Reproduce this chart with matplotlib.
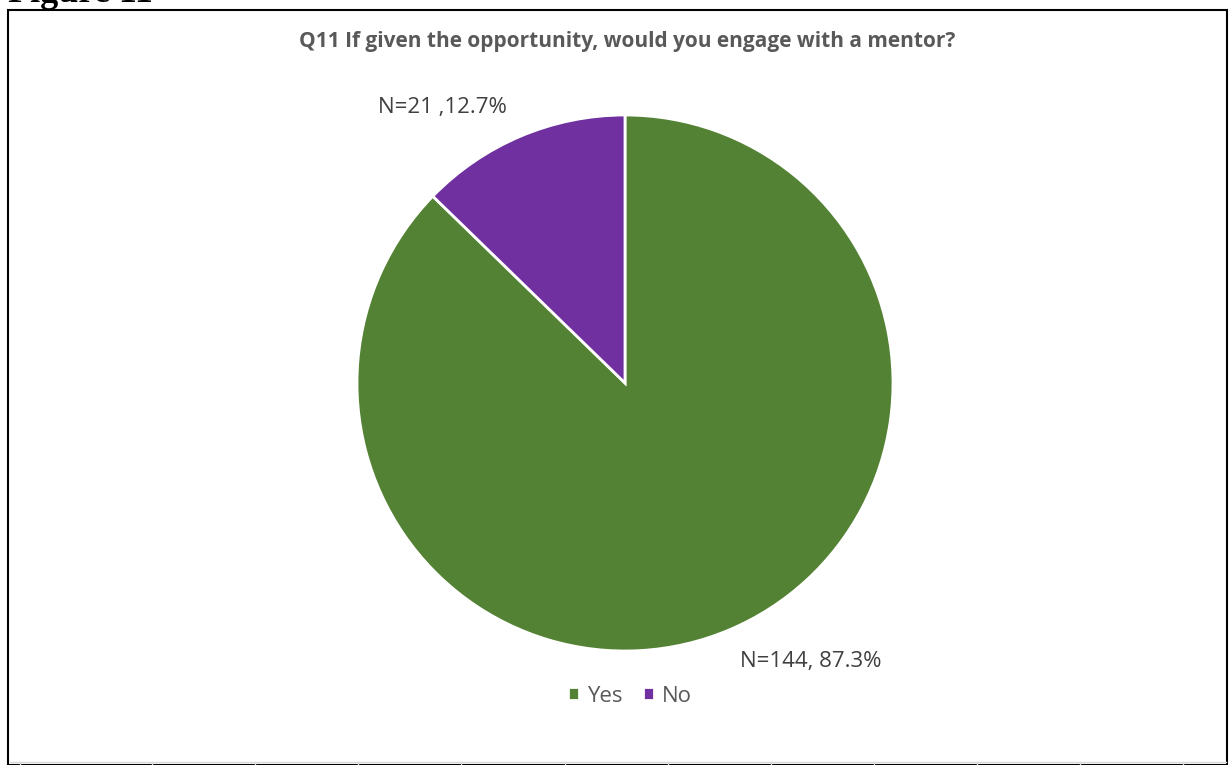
import matplotlib
matplotlib.use("Agg")
import matplotlib.pyplot as plt
from matplotlib.patches import Rectangle

labels = ["Yes", "No"]
counts = [144, 21]
percents = [87.3, 12.7]
colors = ["#548235", "#7030A0"]
title = "Q11 If given the opportunity, would you engage with a mentor?"

W, H = 1230, 765
fig = plt.figure(figsize=(W / 100, H / 100), dpi=100)
plt.rcParams['font.family'] = ['Open Sans', 'DejaVu Sans']

# outer frame of the chart (figure page)
fig.patches.append(Rectangle((8 / W, 0), 1219 / W, (H - 10) / H, transform=fig.transFigure,
                             fill=False, edgecolor="black", linewidth=1.5))
# cut-off caption at the top of the page
fig.text(8 / W, 1 + 6 / H, "Figure 11", family="Liberation Serif", fontweight="bold",
         fontsize=26, va="center", ha="left")
# faint table cell lines at the bottom
fig.add_artist(plt.Line2D([10 / W, 1226 / W], [3 / H, 3 / H], color="#d9d9d9", lw=1))
for xv in [20, 152, 255, 358, 461, 565, 668, 771, 874, 977, 1080, 1183]:
    fig.add_artist(plt.Line2D([xv / W, xv / W], [0, 3 / H], color="#d9d9d9", lw=1))

cx, cy, r = 625, 383, 268
ax = fig.add_axes([(cx - r) / W, (H - cy - r) / H, 2 * r / W, 2 * r / H])
wedges, _ = ax.pie(counts, colors=colors, startangle=90, counterclock=False,
                   wedgeprops=dict(edgecolor="white", linewidth=2))
ax.set_xlim(-1, 1)
ax.set_ylim(-1, 1)
ax.set_aspect("equal")

fig.text(627 / W, 1 - 42 / H, title, ha="center", va="center", fontsize=15,
         fontweight="bold", color="#595959")

fig.text(442 / W, 1 - 107 / H, f"N={counts[1]} ,{percents[1]}%", ha="center",
         va="center", fontsize=16, color="#404040")
fig.text(811 / W, 1 - 661 / H, f"N={counts[0]}, {percents[0]}%", ha="center",
         va="center", fontsize=16, color="#404040")

fig.legend(wedges, labels, loc="center", bbox_to_anchor=(630 / W, 1 - 696 / H),
           ncol=2, frameon=False, fontsize=16, handlelength=0.5, handleheight=0.5,
           handletextpad=0.35, columnspacing=0.9, labelcolor="#595959")

fig.savefig("out.png", dpi=100)
